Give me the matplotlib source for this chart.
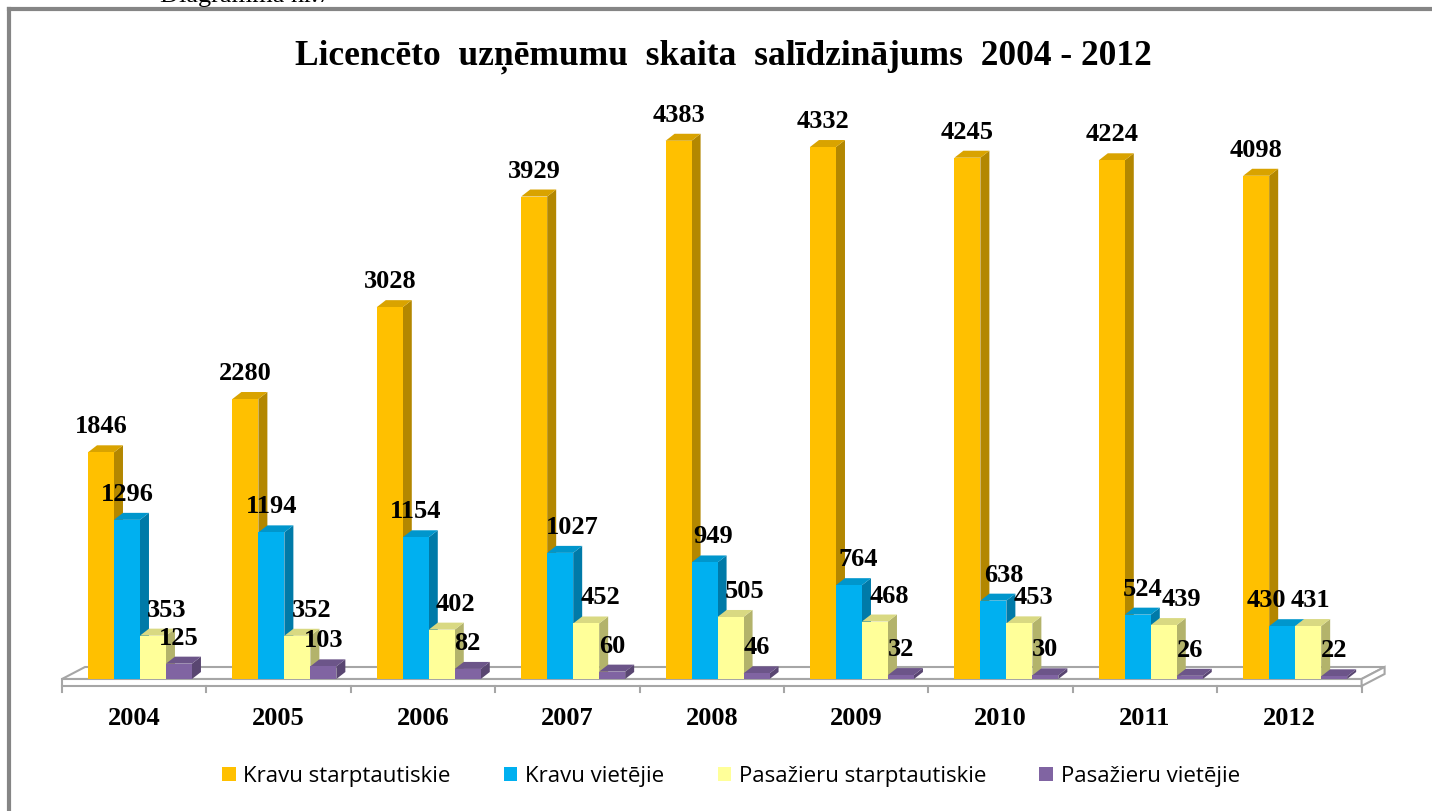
import matplotlib
matplotlib.use("Agg")
import matplotlib.pyplot as plt
from matplotlib.patches import Polygon, Rectangle, Patch
import numpy as np

gadi = ["2004", "2005", "2006", "2007", "2008", "2009", "2010", "2011", "2012"]
kravu_starpt = [1846, 2280, 3028, 3929, 4383, 4332, 4245, 4224, 4098]
kravu_viet = [1296, 1194, 1154, 1027, 949, 764, 638, 524, 430]
pas_starpt = [353, 352, 402, 452, 505, 468, 453, 439, 431]
pas_viet = [125, 103, 82, 60, 46, 32, 30, 26, 22]
nosaukumi = ["Kravu starptautiskie", "Kravu vietējie",
             "Pasažieru starptautiskie", "Pasažieru vietējie"]

# krasas: priekša, sāns, augša
krasas = [("#FFC000", "#B38700", "#D9A300"),
          ("#00B0F0", "#007AA8", "#0096CC"),
          ("#FFFF99", "#B3B36B", "#D9D982"),
          ("#8064A2", "#594671", "#6C5589")]

# etiķešu nobīde pikseļos (Excel izkārtojums)
nobide = [[0] * 9,
          [0, 0, 0, 12, 9, 9, 10, 5, -16],
          [14, 14, 14, 14, 14, 14, 14, 18, 2],
          [0] * 9]

W, H = 1432, 812
fig = plt.figure(figsize=(W / 100, H / 100), dpi=100)
ax = fig.add_axes([0, 0, 1, 1])

# mērogs: pikseļi uz vienību
px_kat = 144.4
px_val = 0.1228
x_kreisi = 62
y_bazes = 680
ax.set_xlim(-x_kreisi / px_kat, (W - x_kreisi) / px_kat)
ax.set_ylim(-(H - y_bazes) / px_val, y_bazes / px_val)
ax.axis("off")

dx = 9 / px_kat
dy = 7 / px_val
plat = 0.18
sak = 0.18

# grīda
n = len(gadi)
gdx = 23 / px_kat
gdy = 12 / px_val
slab = 7 / px_val
gk = "#A6A6A6"
ax.add_patch(Polygon([(0, 0), (n, 0), (n + gdx, gdy), (gdx, gdy)],
                     closed=True, fc="white", ec=gk, lw=1.5, zorder=1))
ax.add_patch(Polygon([(0, 0), (n, 0), (n, -slab), (0, -slab)],
                     closed=True, fc="white", ec=gk, lw=1.5, zorder=1))
ax.add_patch(Polygon([(n, 0), (n + gdx, gdy), (n + gdx, gdy - slab), (n, -slab)],
                     closed=True, fc="white", ec=gk, lw=1.5, zorder=1))
for i in range(n + 1):
    ax.plot([i, i], [-slab, -slab - 6 / px_val], color=gk, lw=1.5, zorder=1)

serii = [kravu_starpt, kravu_viet, pas_starpt, pas_viet]
z = 2
for i in range(n):
    for s, vert in enumerate(serii):
        h = vert[i]
        x = i + sak + s * plat
        fr, sa, au = krasas[s]
        ax.add_patch(Rectangle((x, 0), plat, h, fc=fr, ec="none", zorder=z + 1))
        ax.add_patch(Polygon([(x + plat, 0), (x + plat + dx, dy),
                              (x + plat + dx, h + dy), (x + plat, h)],
                             closed=True, fc=sa, ec="none", zorder=z))
        ax.add_patch(Polygon([(x, h), (x + dx, h + dy),
                              (x + plat + dx, h + dy), (x + plat, h)],
                             closed=True, fc=au, ec="none", zorder=z))
        z += 2

for i in range(n):
    for s, vert in enumerate(serii):
        h = vert[i]
        x = i + sak + s * plat + plat / 2 + nobide[s][i] / px_kat
        ax.text(x, h + 20 / px_val, str(h), ha="center", va="baseline",
                family="Liberation Serif", weight="bold", fontsize=19, zorder=200)
    ax.text(i + 0.5, -(725 - y_bazes) / px_val, gadi[i], ha="center",
            va="baseline", family="Liberation Serif", weight="bold",
            fontsize=19, zorder=200)

# rāmis (tikai augša un kreisā mala redzamas)
fig.add_artist(plt.Line2D([9 / W, 1.01], [1 - 10 / H, 1 - 10 / H],
                          color="#858585", lw=3))
fig.add_artist(plt.Line2D([9 / W, 9 / W], [-0.01, 1 - 10 / H],
                          color="#858585", lw=3))

fig.text(160 / W, 1 - 2 / H, "Diagramma nr.7", family="Liberation Serif",
         fontsize=19, va="baseline")
fig.text(723 / W, 1 - 65 / H,
         "Licencēto  uzņēmumu  skaita  salīdzinājums  2004 - 2012",
         family="Liberation Serif", weight="bold", fontsize=25.5,
         ha="center", va="baseline")

roki = [Patch(fc=k[0], ec="none") for k in krasas]
fig.legend(roki, nosaukumi, ncol=4, loc="center",
           bbox_to_anchor=(731 / W, 1 - 777 / H), frameon=False,
           prop={"family": "Open Sans", "size": 16},
           handlelength=0.6, handleheight=0.6, handletextpad=0.35,
           columnspacing=2.4)

fig.savefig("out.png", dpi=100)
